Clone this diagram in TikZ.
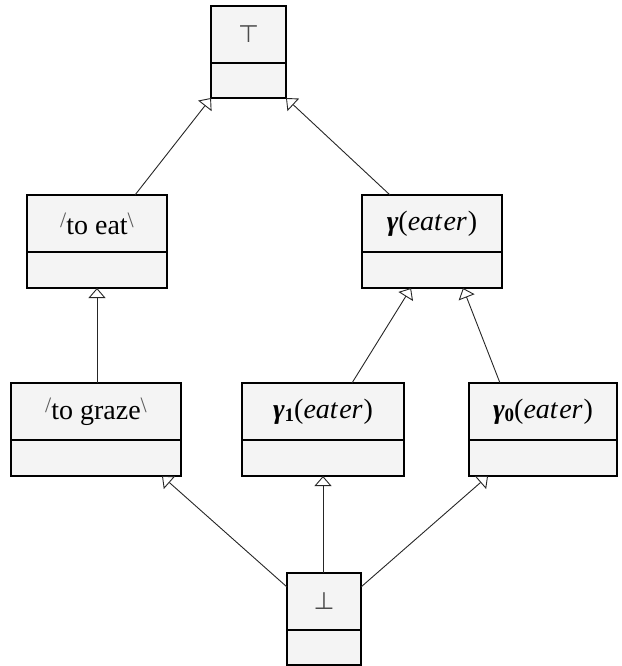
\documentclass[tikz,border=0pt]{standalone}
\usepackage{fontspec}
\setmainfont{Liberation Serif}
\newfontfamily\symfam{DejaVu Sans}
\usetikzlibrary{arrows.meta}
\definecolor{boxfill}{HTML}{F4F4F4}
\tikzset{
  classbox/.style={draw=black, line width=2pt, fill=boxfill, rectangle, inner sep=0pt, outer sep=0pt},
  divider/.style={draw=black, line width=2pt},
  classtext/.style={font=\rmfamily\fontsize{28}{32}\selectfont, inner sep=0pt},
  gen/.style={draw=black!85, line width=0.9pt, -{Triangle[open, length=10pt, width=17pt, fill=white]}},
}
\newcommand\umlclass[6]{%
  \node[classbox, minimum width=#4pt, minimum height=#5pt] (#1) at (#2,#3) {};
  \draw[divider] ([yshift=-57pt]#1.north west) -- ([yshift=-57pt]#1.north east);
  \node[classtext] (#1-t) at ([yshift=-28.5pt]#1.north) {#6};
}
\newcommand\qopen{\raisebox{7pt}{\fontsize{22}{22}\selectfont\textcolor{black!65}{/}}}
\newcommand\qclose{\raisebox{7pt}{\fontsize{22}{22}\selectfont\textcolor{black!65}{\textbackslash}}}
\newcommand\gammab{{\bfseries\itshape γ}}
\newcommand\gsub[1]{\raisebox{-3pt}{\fontsize{19}{19}\selectfont\bfseries #1}}
\newcommand\eaterarg{({\itshape eat\kern1.5pt er\kern1pt})}
\newcommand\symtxt[1]{{\symfam\fontsize{24}{28}\selectfont\textcolor{black!70}{#1}}}
\begin{document}
\begin{tikzpicture}[x=1pt,y=-1pt]
\useasboundingbox (0,0) rectangle (621,666);
\umlclass{top}{248.5}{52}{75}{92}{\symtxt{⊤}}
\umlclass{eat}{97}{241.5}{140}{93}{\qopen to eat\qclose}
\umlclass{gam}{432}{241.5}{140}{93}{\gammab\eaterarg}
\umlclass{graze}{96}{429.5}{170}{93}{\qopen to graze\qclose}
\umlclass{gone}{323}{429.5}{162}{93}{\gammab\gsub{1}\eaterarg}
\umlclass{gzero}{543}{429.5}{148}{93}{\gammab\gsub{0}\eaterarg}
\umlclass{bot}{324}{619}{74}{92}{\symtxt{⊥}}
\draw[gen] ([xshift=38pt]eat.north) -- (top.south west);
\draw[gen] ([xshift=-42pt]gam.north) -- (top.south east);
\draw[gen] (eat.south |- graze.north) -- (eat.south);
\draw[gen] ([xshift=29pt]gone.north) -- ([xshift=-21pt]gam.south);
\draw[gen] ([xshift=31pt]gzero.north west) -- ([xshift=31pt]gam.south);
\draw[gen] ([yshift=-14pt]bot.north west) -- ([xshift=66pt]graze.south);
\draw[gen] (gone.south |- bot.north) -- (gone.south);
\draw[gen] ([yshift=-14pt]bot.north east) -- ([xshift=-55pt]gzero.south);
\end{tikzpicture}
\end{document}
